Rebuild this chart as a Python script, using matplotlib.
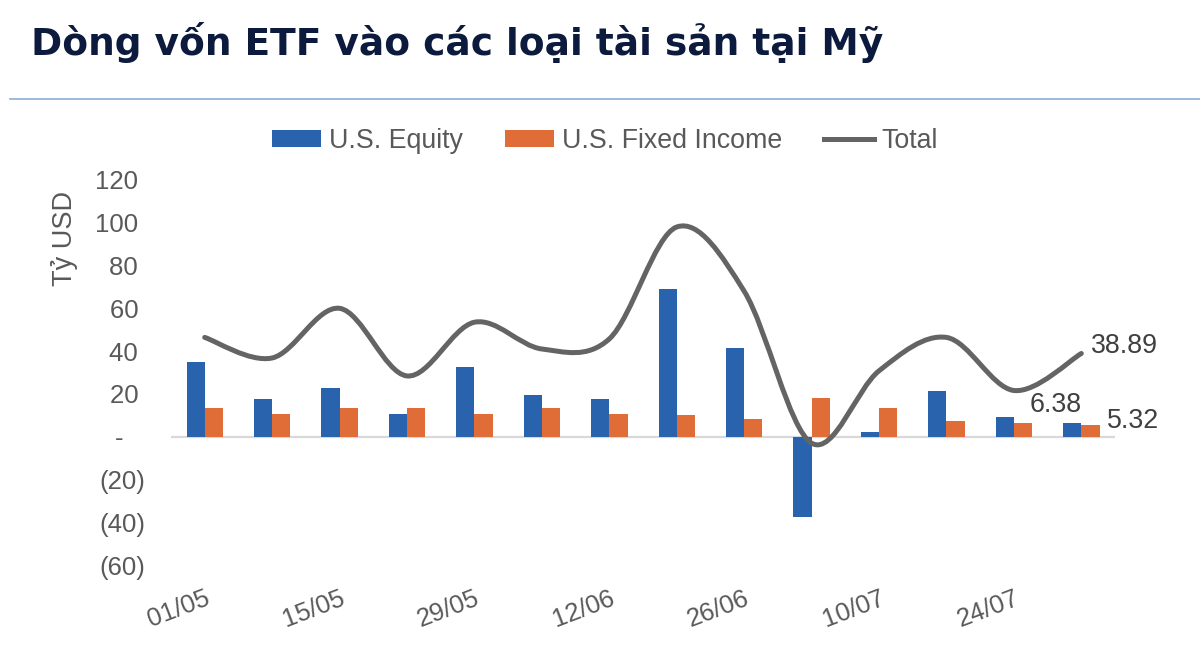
# Dong von ETF vao cac loai tai san tai My - bar + smoothed line chart
import matplotlib
matplotlib.use("Agg")
import matplotlib.pyplot as plt
import numpy as np
from matplotlib.path import Path
from matplotlib.patches import PathPatch
from matplotlib.lines import Line2D
from matplotlib.ticker import FuncFormatter

weeks = ['01/05', '08/05', '15/05', '22/05', '29/05', '05/06', '12/06',
         '19/06', '26/06', '03/07', '10/07', '17/07', '24/07', '31/07']
equity = [34.7, 17.6, 22.6, 10.6, 32.6, 19.4, 17.4, 69.2, 41.3, -37.7, 2.3, 21.4, 9.2, 6.38]
fixed_income = [13.6, 10.5, 13.6, 13.6, 10.5, 13.6, 10.4, 10.3, 8.3, 18.2, 13.3, 7.2, 6.2, 5.32]
total = [46.4, 36.8, 60.0, 28.4, 53.5, 41.0, 45.7, 98.0, 68.0, -3.0, 30.8, 46.4, 21.6, 38.89]

BLUE = '#2a63ad'
ORANGE = '#e06d38'
GRAY = '#646464'
TXT = '#595959'

plt.rcParams['font.family'] = ['Liberation Sans', 'DejaVu Sans']

fig = plt.figure(figsize=(12, 6.54), dpi=100)
ax = fig.add_axes([0.1425, 0.1359, 0.9292 - 0.1425, 0.7249 - 0.1359])

x = np.arange(len(weeks))
w = 0.27
b1 = ax.bar(x - w / 2, equity, w, color=BLUE, zorder=2)
b2 = ax.bar(x + w / 2, fixed_income, w, color=ORANGE, zorder=2)
ax.axhline(0, color='#d9d9d9', lw=1.6, zorder=1)

# smoothed line like Excel (Catmull-Rom -> cubic bezier)
pts = np.column_stack([x, total]).astype(float)
verts = [tuple(pts[0])]
codes = [Path.MOVETO]
n = len(pts)
for i in range(n - 1):
    p0 = pts[max(i - 1, 0)]
    p1 = pts[i]
    p2 = pts[i + 1]
    p3 = pts[min(i + 2, n - 1)]
    c1 = p1 + (p2 - p0) / 6.0
    c2 = p2 - (p3 - p1) / 6.0
    verts += [tuple(c1), tuple(c2), tuple(p2)]
    codes += [Path.CURVE4] * 3
ax.add_patch(PathPatch(Path(verts, codes), facecolor='none', edgecolor=GRAY,
                       lw=3.6, capstyle='round', zorder=3))

ax.set_xlim(-0.5, len(weeks) - 0.5)
ax.set_ylim(-60, 120)
ax.set_yticks(np.arange(-60, 121, 20))


def acct(v, pos=None):
    if v < 0:
        return '(%d)' % abs(v)
    if v == 0:
        return '-   '
    return '%d ' % v


ax.yaxis.set_major_formatter(FuncFormatter(acct))
ax.set_xticks(x[::2])
ax.set_xticklabels(weeks[::2], rotation=21, ha='right', va='top',
                   rotation_mode='anchor')
ax.tick_params(axis='y', length=0, pad=18.5, labelsize=18.5, labelcolor=TXT)
ax.tick_params(axis='x', length=0, pad=15, labelsize=18.5, labelcolor=TXT)
for s in ax.spines.values():
    s.set_visible(False)
for lab in ax.get_xticklabels():
    lab.set_x(lab.get_position()[0])

# data labels on the last week
ax.annotate('%.2f' % total[-1], (x[-1], total[-1]), xytext=(7, 5.5),
            textcoords='offset points', ha='left', va='center',
            fontsize=19.3, color='#404040')
ax.annotate('%.2f' % equity[-1], (x[-1] - w / 2, equity[-1]), xytext=(-12, 13),
            textcoords='offset points', ha='center', va='center',
            fontsize=19.3, color='#404040')
ax.annotate('%.2f' % fixed_income[-1], (x[-1] + w / 2, fixed_income[-1]),
            xytext=(12, 3), textcoords='offset points', ha='left', va='center',
            fontsize=19.3, color='#404040')

fig.text(65 / 1200, 1 - 238 / 654, 'Tỷ USD', rotation=90, ha='center',
         va='center', fontsize=19.5, color=TXT)

# title and separator
fig.text(31 / 1200, 1 - 55 / 654, 'Dòng vốn ETF vào các loại tài sản tại Mỹ',
         family='DejaVu Sans', fontweight='bold', fontsize=27,
         color='#0c1a3d', ha='left', va='baseline')
fig.add_artist(Line2D([10 / 1200, 1], [1 - 99 / 654, 1 - 99 / 654],
                      color='#8faadc', lw=1.2))

handles = [b1, b2, Line2D([], [], color=GRAY, lw=3.6)]
fig.legend(handles, ['U.S. Equity', 'U.S. Fixed Income', 'Total'],
           loc='center', bbox_to_anchor=(605 / 1200, 1 - 141 / 654), ncol=3,
           frameon=False, fontsize=19.3, labelcolor=TXT, handlelength=1.85,
           handleheight=0.55, handletextpad=0.3, columnspacing=1.55)

fig.savefig('out.png', dpi=100)
